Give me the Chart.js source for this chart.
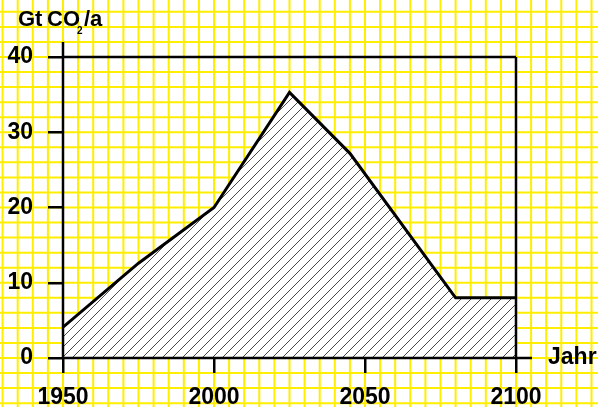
<!DOCTYPE html>
<html>
<head>
<meta charset="utf-8">
<script src="https://cdn.jsdelivr.net/npm/chart.js@4"></script>
<style>
  html, body { margin: 0; padding: 0; background: #fff; }
  #wrap { width: 598px; height: 407px; }
</style>
</head>
<body>
<div id="wrap"><canvas id="chartJSContainer" width="598" height="407"></canvas></div>
<script>
// data
var years = [1950, 1975, 2000, 2025, 2045, 2080, 2100];
var emissions = [4.1, 12.6, 20, 35.3, 27.2, 8, 8];
var xTicks = [1950, 2000, 2050, 2100];
var yTicks = [0, 10, 20, 30, 40];

var FONT = "'Liberation Sans', Arial, sans-serif";

// white + diagonal hatch pattern for the area under the curve
function hatch() {
  var c = document.createElement("canvas");
  c.width = 10; c.height = 10;
  var g = c.getContext("2d");
  g.fillStyle = "#fff";
  g.fillRect(0, 0, 10, 10);
  g.strokeStyle = "#333";
  g.lineWidth = 0.9;
  g.beginPath();
  g.moveTo(-1, 11); g.lineTo(11, -1);
  g.moveTo(-1, 1); g.lineTo(1, -1);
  g.moveTo(9, 11); g.lineTo(11, 9);
  g.stroke();
  return g.createPattern(c, "repeat");
}

// yellow squared paper over the whole canvas, following the scales
var paper = {
  id: "paper",
  beforeDraw: function (chart) {
    var ctx = chart.ctx, x = chart.scales.x, y = chart.scales.y;
    ctx.save();
    ctx.fillStyle = "#fff";
    ctx.fillRect(0, 0, chart.width, chart.height);
    ctx.strokeStyle = "#ffee00";
    ctx.lineWidth = 2;
    ctx.beginPath();
    for (var v = 1925; v <= 2135; v += 5) {
      var px = x.getPixelForValue(v);
      ctx.moveTo(px, 0); ctx.lineTo(px, chart.height);
    }
    for (var w = -10; w <= 56; w += 2) {
      var py = y.getPixelForValue(w);
      ctx.moveTo(0, py); ctx.lineTo(chart.width, py);
    }
    ctx.stroke();
    ctx.restore();
  },
  afterDraw: function (chart) {
    var ctx = chart.ctx, a = chart.chartArea;
    ctx.save();
    ctx.strokeStyle = "#000";
    ctx.lineWidth = 2.5;
    ctx.beginPath();
    ctx.moveTo(a.left, a.top - 15); ctx.lineTo(a.left, a.bottom);
    ctx.moveTo(a.left, a.top); ctx.lineTo(a.right, a.top);
    ctx.moveTo(a.right, a.top); ctx.lineTo(a.right, a.bottom);
    ctx.moveTo(a.left, a.bottom); ctx.lineTo(a.right + 16, a.bottom);
    ctx.stroke();

    ctx.fillStyle = "#000";
    ctx.textBaseline = "alphabetic";
    ctx.textAlign = "left";
    ctx.font = "bold 22px " + FONT;
    ctx.fillText("Gt", 18, 26);
    ctx.fillText("CO", 47, 26);
    ctx.fillText("/a", 84, 26);
    ctx.font = "bold 10px " + FONT;
    ctx.fillText("2", 77, 34);
    ctx.font = "bold 23px " + FONT;
    ctx.fillText("Jahr", 548, 364);
    ctx.restore();
  }
};

var options = {
  type: "line",
  data: {
    labels: years,
    datasets: [
      {
        label: "CO2",
        data: years.map(function (yr, i) { return { x: yr, y: emissions[i] }; }),
        borderColor: "#000",
        borderWidth: 3,
        borderJoinStyle: "miter",
        backgroundColor: hatch(),
        fill: "origin",
        tension: 0,
        pointRadius: 0,
      },
    ],
  },
  options: {
    responsive: false,
    animation: false,
    layout: { padding: { top: 57, right: 82, left: 0, bottom: 0 } },
    plugins: { legend: { display: false }, tooltip: { enabled: false } },
    scales: {
      x: {
        type: "linear",
        min: 1950,
        max: 2100,
        afterFit: function (s) { s.height = 49; },
        afterBuildTicks: function (s) { s.ticks = xTicks.map(function (v) { return { value: v }; }); },
        border: { display: false },
        grid: { drawOnChartArea: false, drawTicks: true, tickLength: 15, color: "#000", lineWidth: 2.5 },
        ticks: {
          color: "#000",
          padding: 11,
          maxRotation: 0,
          font: { family: FONT, size: 23, weight: "bold" },
          callback: function (v) { return String(v); },
        },
      },
      y: {
        min: 0,
        max: 40,
        afterFit: function (s) { s.width = 63; },
        afterBuildTicks: function (s) { s.ticks = yTicks.map(function (v) { return { value: v }; }); },
        border: { display: false },
        grid: { drawOnChartArea: false, drawTicks: true, tickLength: 15, color: "#000", lineWidth: 2.5 },
        ticks: {
          color: "#000",
          padding: 15,
          font: { family: FONT, size: 23, weight: "bold" },
          callback: function (v) { return String(v); },
        },
      },
    },
  },
  plugins: [paper],
};

var ctx = document.getElementById("chartJSContainer").getContext("2d");
new Chart(ctx, options);
</script>
</body>
</html>
